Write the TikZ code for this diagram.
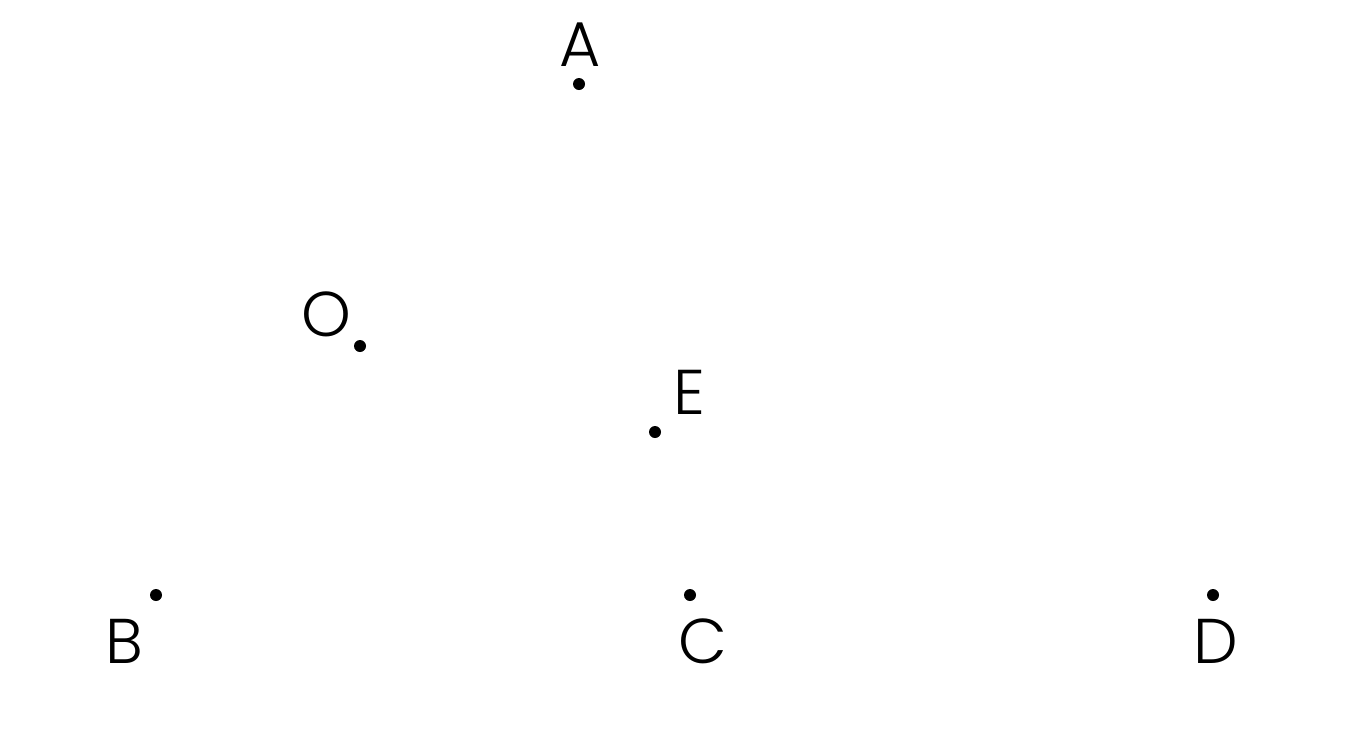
\documentclass[tikz,border=0pt]{standalone}
\usepackage{fontspec}
\setmainfont{Poppins}[UprightFont=* Light]
\usepackage{tikz}

\tikzset{
    dot/.style={circle, fill=black, inner sep=0pt, minimum size=0.12cm},
    lbl/.style={font=\fontsize{18}{20}\selectfont, inner sep=0pt}
}

\begin{document}
\begin{tikzpicture}

% Frame
\useasboundingbox (0, 0) rectangle (13.71, 7.29);

% Points and their labels
\foreach \name/\x/\y/\lx/\ly in {
    A/5.79/6.45/5.80/6.84,
    O/3.60/3.83/3.26/4.15,
    E/6.55/2.97/6.89/3.37,
    B/1.56/1.34/1.24/0.88,
    C/6.90/1.34/7.03/0.88,
    D/12.13/1.34/12.16/0.88
} {
    \node[dot] (\name) at (\x, \y) {};
    \node[lbl] (\name-lbl) at (\lx, \ly) {\name};
}

\end{tikzpicture}
\end{document}
